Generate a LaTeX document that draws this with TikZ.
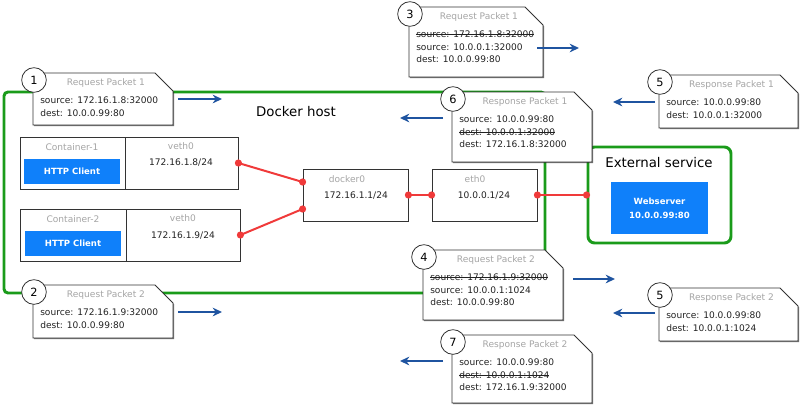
\documentclass[tikz,border=0pt]{standalone}
\usepackage{fontspec}
\setmainfont{DejaVu Sans}
\usetikzlibrary{arrows.meta, positioning, calc, shadows}
\definecolor{hostc}{HTML}{1A9B1A}
\definecolor{appc}{HTML}{0F80FA}
\definecolor{flowc}{HTML}{1F54A0}
\definecolor{linkc}{HTML}{F03A3A}
\definecolor{edgec}{HTML}{333333}
\definecolor{ttlc}{HTML}{A5A5A5}
\definecolor{bodyc}{HTML}{222222}
% crossed-out header line
\newcommand{\struck}[1]{\leavevmode\setbox0\hbox{#1}\rlap{\rule[0.3em]{\wd0}{0.5pt}}\box0}
% packet card: name, top-left corner, width, height, step number, title, lines
\newcommand{\packet}[7]{%
  \draw[pkt] #2 -- ++(#3-18,0) -- ++(18,18) -- ++(0,#4-18) -- ++(-#3,0) -- cycle;
  \node[ttl] (#1t) at ($#2+(#3/2+3,10)$) {#6};
  \foreach \txt [count=\k] in {#7}
    \node[body, anchor=base west] (#1l\k) at ($#2+(7,17.5+12.8*\k)$) {\txt};
  \node[num] (#1n) at ($#2+(1,7)$) {#5};
}

\begin{document}
\begin{tikzpicture}[x=0.75pt, y=-0.75pt,
    font=\fontsize{6.8}{8}\selectfont,
    sz/.style 2 args={minimum width=#1*0.75pt, minimum height=#2*0.75pt},
    dropsh/.style={drop shadow={shadow xshift=0.8pt, shadow yshift=-0.8pt,
        fill=black, opacity=0.55}},
    box/.style={draw=edgec, fill=white, line width=0.6pt, inner sep=0pt, dropsh},
    pkt/.style={draw=edgec, fill=white, line width=0.6pt, dropsh},
    ttl/.style={text=ttlc, inner sep=0pt},
    body/.style={text=bodyc, inner sep=0pt},
    num/.style={circle, draw=edgec, fill=white, line width=0.6pt, inner sep=0pt,
        minimum size=18.5pt, font=\fontsize{8.5}{10}\selectfont},
    app/.style={fill=appc, text=white, inner sep=0pt,
        font=\fontsize{6.4}{10.5}\selectfont\bfseries},
    zone/.style={draw=hostc, line width=2.2pt, rounded corners=3pt, inner sep=0pt},
    big/.style={font=\fontsize{10}{12}\selectfont, inner sep=0pt},
    link/.style={draw=linkc, line width=1.5pt},
    flow/.style={draw=flowc, line width=1.6pt, -{Stealth[length=7pt, width=6.5pt]}}]
  \useasboundingbox (0,0) rectangle (800,405);

  % hosts
  \node[zone, sz={541}{201}] (host) at (274.5,192.5) {};
  \node[big] (hostl) at (296,112) {Docker host};
  \node[zone, sz={143}{96}, rounded corners=5pt] (ext) at (659.5,195) {};
  \node[big] (extl) at (659,163) {External service};
  \node[app, sz={97}{52}, align=center] (ws) at (659.5,208) {Webserver\\10.0.0.99:80};

  % containers
  \node[box, sz={105}{52}] (c1) at (72.5,163) {};
  \node[box, sz={113}{52}] (v1) at (181.5,163) {};
  \node[ttl] (c1t) at (72,147) {Container-1};
  \node[app, sz={96}{25}] (c1a) at (72,171.5) {HTTP Client};
  \node[ttl] (v1t) at (181,146) {veth0};
  \node[body] (v1ip) at (181,163) {172.16.1.8/24};

  \node[box, sz={106}{52}] (c2) at (73,235) {};
  \node[box, sz={114}{52}] (v2) at (183,235) {};
  \node[ttl] (c2t) at (73,219) {Container-2};
  \node[app, sz={96}{25}] (c2a) at (73,243.5) {HTTP Client};
  \node[ttl] (v2t) at (183,218) {veth0};
  \node[body] (v2ip) at (183,236) {172.16.1.9/24};

  % bridge and uplink
  \node[box, sz={105}{52}] (d0) at (355.5,195) {};
  \node[ttl] (d0t) at (347,179) {docker0};
  \node[body] (d0ip) at (356,196) {172.16.1.1/24};
  \node[box, sz={105}{52}] (e0) at (484.5,195) {};
  \node[ttl] (e0t) at (475,179) {eth0};
  \node[body] (e0ip) at (484,196) {10.0.0.1/24};

  \coordinate (d0a) at ($(d0.west)+(0,-13)$);
  \coordinate (d0b) at ($(d0.west)+(0,14)$);
  \draw[link] (v1.east) -- (d0a);
  \draw[link] (v2.east) -- (d0b);
  \draw[link] (d0.east) -- (e0.west);
  \draw[link] (e0.east) -- (ext.west);
  \foreach \p in {v1.east, d0a, v2.east, d0b, d0.east, e0.west, e0.east, ext.west}
    \fill[linkc] (\p) circle (2.7pt);

  % packets
  \packet{p1}{(33,73)}{140}{52}{1}{Request Packet 1}{source: 172.16.1.8:32000, dest: 10.0.0.99:80}
  \packet{p2}{(33,285)}{140}{53}{2}{Request Packet 2}{source: 172.16.1.9:32000, dest: 10.0.0.99:80}
  \packet{p3}{(409,7)}{134}{70}{3}{Request Packet 1}{\struck{source: 172.16.1.8:32000}, source: 10.0.0.1:32000, dest: 10.0.0.99:80}
  \packet{p4}{(423,250)}{140}{70}{4}{Request Packet 2}{\struck{source: 172.16.1.9:32000}, source: 10.0.0.1:1024, dest: 10.0.0.99:80}
  \packet{p5}{(659,75)}{139}{53}{5}{Response Packet 1}{source: 10.0.0.99:80, dest: 10.0.0.1:32000}
  \packet{q5}{(659,288)}{139}{53}{5}{Response Packet 2}{source: 10.0.0.99:80, dest: 10.0.0.1:1024}
  \packet{p6}{(452,92)}{140}{70}{6}{Response Packet 1}{source: 10.0.0.99:80, \struck{dest: 10.0.0.1:32000}, dest: 172.16.1.8:32000}
  \packet{p7}{(452,335)}{140}{68}{7}{Response Packet 2}{source: 10.0.0.99:80, \struck{dest: 10.0.0.1:1024}, dest: 172.16.1.9:32000}

  % direction of travel
  \foreach \n/\xa/\xb/\y in {p1/178/222/99, p2/178/222/312, p3/537/579/48,
      p4/573/615/279, p5/655/613/102, q5/655/613/313, p6/443/400/118, p7/443/400/361} {
    \coordinate (\n-s) at (\xa,\y);
    \coordinate (\n-e) at (\xb,\y);
    \draw[flow] (\n-s) -- (\n-e);
  }
\end{tikzpicture}
\end{document}
